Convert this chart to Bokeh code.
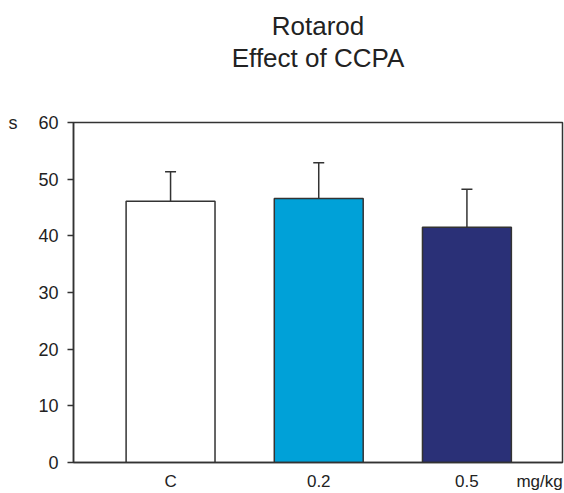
from bokeh.plotting import figure
from bokeh.models import (Range1d, ColumnDataSource, Whisker, TeeHead, Title,
                          FixedTicker, LinearAxis)
from bokeh.embed import file_html
from bokeh.resources import INLINE

# data
categories = ["C", "0.2", "0.5"]
means = [46.1, 46.6, 41.5]
sem = [5.2, 6.3, 6.7]
colors = ["#ffffff", "#00a1d8", "#2a3077"]
yticks = [0, 10, 20, 30, 40, 50, 60]
title_lines = ["Rotarod", "Effect of CCPA"]
y_unit = "s"
x_unit = "mg/kg"

positions = [1, 2, 3]
unit_pos = 3.49
FONT = "Liberation Sans"
INK = "#333333"
TXT = "#222222"

p = figure(width=564, height=493, output_backend="svg", toolbar_location=None,
           x_range=Range1d(0.345, 3.645), y_range=Range1d(0, 60),
           min_border_left=73, min_border_right=2, min_border_top=122, min_border_bottom=29)
p.background_fill_color = "white"
p.border_fill_color = "white"
p.outline_line_color = INK
p.outline_line_width = 1.5
p.grid.visible = False

src = ColumnDataSource(dict(x=positions, top=means,
                            upper=[m + s for m, s in zip(means, sem)],
                            color=colors))
p.vbar(x="x", top="top", width=0.6, source=src, fill_color="color",
       line_color=INK, line_width=1.5)
p.add_layout(Whisker(source=src, base="x", lower="top", upper="upper",
                     line_color=INK, line_width=1.5, lower_head=None,
                     upper_head=TeeHead(size=11, line_color=INK, line_width=1.5)))

# axes
p.yaxis.ticker = FixedTicker(ticks=yticks)
p.yaxis.minor_tick_line_color = None
p.yaxis.major_tick_out = 6
p.yaxis.major_tick_in = 0
p.yaxis.major_label_standoff = 9
p.yaxis.axis_line_color = INK
p.yaxis.axis_line_width = 1.5
p.yaxis.major_tick_line_color = INK
p.yaxis.major_tick_line_width = 1.5
p.yaxis.major_label_text_font = FONT
p.yaxis.major_label_text_font_size = "18px"
p.yaxis.major_label_text_color = TXT

# unit label "s" as an extra left axis
unit_axis = LinearAxis(ticker=FixedTicker(ticks=[yticks[-1]]),
                       major_label_overrides={yticks[-1]: y_unit},
                       axis_line_color=None, major_tick_line_color=None,
                       minor_tick_line_color=None, major_tick_out=0, major_tick_in=0,
                       major_label_standoff=18,
                       major_label_text_font=FONT, major_label_text_font_size="18px",
                       major_label_text_color=TXT)
p.add_layout(unit_axis, "left")

xt = positions + [unit_pos]
p.xaxis.ticker = FixedTicker(ticks=xt)
p.xaxis.major_label_overrides = {pos: c for pos, c in zip(xt, categories + [x_unit])}
p.xaxis.minor_tick_line_color = None
p.xaxis.major_tick_line_color = None
p.xaxis.major_tick_out = 0
p.xaxis.major_tick_in = 0
p.xaxis.major_label_standoff = 9
p.xaxis.axis_line_color = INK
p.xaxis.axis_line_width = 1.5
p.xaxis.major_label_text_font = FONT
p.xaxis.major_label_text_font_size = "17px"
p.xaxis.major_label_text_color = TXT

# spacer between frame and title block
p.add_layout(Title(text=" ", text_font=FONT, text_font_size="26px", standoff=18), "above")
# title lines (first added is nearest the frame)
p.add_layout(Title(text=title_lines[1], align="center", text_font=FONT,
                   text_font_size="26px", text_font_style="normal",
                   text_color=TXT, standoff=0), "above")
p.add_layout(Title(text=title_lines[0], align="center", text_font=FONT,
                   text_font_size="26px", text_font_style="normal",
                   text_color=TXT, standoff=0), "above")

open("out.html", "w").write(file_html(p, INLINE))
